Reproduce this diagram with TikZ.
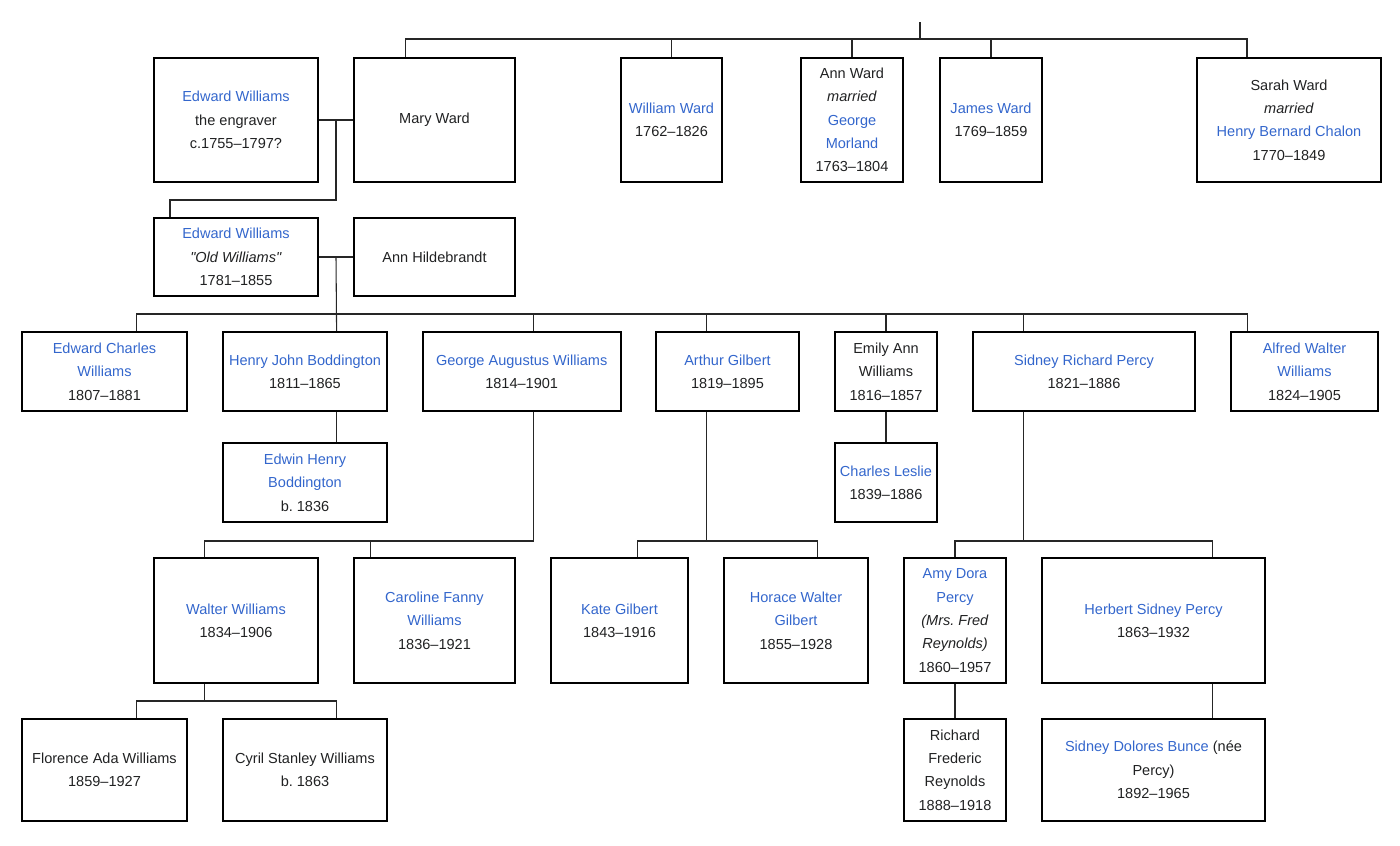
\documentclass[tikz,border=0pt]{standalone}
\usepackage{fontspec}
\setmainfont{Liberation Sans}
\usetikzlibrary{calc}
\definecolor{wikiblue}{HTML}{3366CC}
\definecolor{wikitext}{HTML}{202122}
\newcommand\wlink[1]{\textcolor{wikiblue}{#1}}
\newcommand\dquote{\XeTeXglyph\XeTeXcharglyph"22\relax}
\tikzset{
  person/.style={draw=black,line width=1.5pt,text=wikitext,align=center,
    inner sep=0pt,font=\fontsize{10.9pt}{17.5pt}\selectfont\frenchspacing},
  link/.style={draw=black!85,line width=0.8pt}
}
\begin{document}
\begin{tikzpicture}[x=0.75pt,y=-0.75pt]
  \useasboundingbox (0,0) rectangle (1400,846);
  % the Ward children
  \node[person,minimum width=123pt,minimum height=93pt] (engraver) at (236,120)
       {\wlink{Edward Williams}\\the engraver\\c.1755–1797?};
  \node[person,minimum width=120.75pt,minimum height=93pt] (maryward) at (434.5,120)
       {Mary Ward};
  \node[person,minimum width=75.75pt,minimum height=93pt] (williamward) at (671.5,120)
       {\wlink{William Ward}\\1762–1826};
  \node[person,minimum width=76.5pt,minimum height=93pt] (annward) at (852,120)
       {Ann Ward\\\textit{married}\\\wlink{George}\\\wlink{Morland}\\1763–1804};
  \node[person,minimum width=76.5pt,minimum height=93pt] (jamesward) at (991,120)
       {\wlink{James Ward}\\1769–1859};
  \node[person,minimum width=138pt,minimum height=93pt] (sarahward) at (1289,120)
       {Sarah Ward\\\textit{married}\\\wlink{Henry Bernard Chalon}\\1770–1849};
  % second generation
  \node[person,minimum width=123pt,minimum height=58.5pt] (oldwilliams) at (236,257)
       {\wlink{Edward Williams}\\\textit{\dquote Old Williams\dquote}\\1781–1855};
  \node[person,minimum width=120.75pt,minimum height=58.5pt] (hildebrandt) at (434.5,257)
       {Ann Hildebrandt};
  % children of Old Williams
  \node[person,minimum width=123.75pt,minimum height=59.25pt] (edwardcharles) at (104.5,371.5)
       {\wlink{Edward Charles}\\\wlink{Williams}\\1807–1881};
  \node[person,minimum width=123pt,minimum height=59.25pt] (henryjohn) at (305,371.5)
       {\wlink{Henry John Boddington}\\1811–1865};
  \node[person,minimum width=148.5pt,minimum height=59.25pt] (georgeaugustus) at (521.7,371.5)
       {\wlink{George Augustus Williams}\\1814–1901};
  \node[person,minimum width=107.25pt,minimum height=59.25pt] (arthur) at (727.5,371.5)
       {\wlink{Arthur Gilbert}\\1819–1895};
  \node[person,minimum width=76.5pt,minimum height=59.25pt] (emilyann) at (886,371.5)
       {Emily Ann\\Williams\\1816–1857};
  \node[person,minimum width=166.5pt,minimum height=59.25pt] (sidneyrichard) at (1084,371.5)
       {\wlink{Sidney Richard Percy}\\1821–1886};
  \node[person,minimum width=110.25pt,minimum height=59.25pt] (alfredwalter) at (1304.5,371.5)
       {\wlink{Alfred Walter}\\\wlink{Williams}\\1824–1905};
  \node[person,minimum width=123pt,minimum height=59.25pt] (edwin) at (305,482.5)
       {\wlink{Edwin Henry}\\\wlink{Boddington}\\b. 1836};
  \node[person,minimum width=76.5pt,minimum height=59.25pt] (charlesleslie) at (886,482.5)
       {\wlink{Charles Leslie}\\1839–1886};
  % grandchildren
  \node[person,minimum width=123pt,minimum height=93.75pt] (walter) at (236,620.5)
       {\wlink{Walter Williams}\\1834–1906};
  \node[person,minimum width=120.75pt,minimum height=93.75pt] (caroline) at (434.5,620.5)
       {\wlink{Caroline Fanny}\\\wlink{Williams}\\1836–1921};
  \node[person,minimum width=102.75pt,minimum height=93.75pt] (kate) at (619.5,620.5)
       {\wlink{Kate Gilbert}\\1843–1916};
  \node[person,minimum width=108pt,minimum height=93.75pt] (horace) at (796,620.5)
       {\wlink{Horace Walter}\\\wlink{Gilbert}\\1855–1928};
  \node[person,minimum width=76.5pt,minimum height=93.75pt] (amydora) at (955,620.5)
       {\wlink{Amy Dora}\\\wlink{Percy}\\\textit{(Mrs. Fred}\\\textit{Reynolds)}\\1860–1957};
  \node[person,minimum width=167.25pt,minimum height=93.75pt] (herbert) at (1153.5,620.5)
       {\wlink{Herbert Sidney Percy}\\1863–1932};
  \node[person,minimum width=123.75pt,minimum height=76.5pt] (florence) at (104.5,770)
       {Florence Ada Williams\\1859–1927};
  \node[person,minimum width=123pt,minimum height=76.5pt] (cyril) at (305,770)
       {Cyril Stanley Williams\\b. 1863};
  \node[person,minimum width=76.5pt,minimum height=76.5pt] (richard) at (955,770)
       {Richard\\Frederic\\Reynolds\\1888–1918};
  \node[person,minimum width=167.25pt,minimum height=76.5pt] (sidneydolores) at (1153.5,770)
       {\wlink{Sidney Dolores Bunce} (née\\Percy)\\1892–1965};

  % Ward family bar
  \coordinate (wardtop) at (920,22);
  \coordinate (wardbar) at (920,39);
  \draw[link] (wardtop) -- (wardbar);
  \draw[link] (wardbar) -| ([xshift=-22.1pt]maryward.north);
  \draw[link] (wardbar) -| (williamward.north);
  \draw[link] (wardbar) -| (annward.north);
  \draw[link] (wardbar) -| (jamesward.north);
  \draw[link] (wardbar) -| ([xshift=-31.5pt]sarahward.north);
  % first marriage
  \draw[link] (engraver) -- (maryward);
  \coordinate (wed1) at ($(engraver.east)!0.5!(maryward.west)$);
  \draw[link] (wed1) -- ++(0,80) -| ([xshift=-49.5pt]oldwilliams.north);
  % second marriage
  \draw[link] (oldwilliams) -- (hildebrandt);
  \coordinate (wed2) at ($(oldwilliams.east)!0.5!(hildebrandt.west)$);
  \coordinate (kids) at ($(wed2)+(0,57)$);
  \draw[link] (wed2) -- ([xshift=23.7pt]henryjohn.north);
  \draw[link] (kids) -| ([xshift=24pt]edwardcharles.north);
  \draw[link] (kids) -| ([xshift=8.9pt]georgeaugustus.north);
  \draw[link] (kids) -| ([xshift=-15.8pt]arthur.north);
  \draw[link] (kids) -| (emilyann.north);
  \draw[link] (kids) -| ([xshift=-45.5pt]sidneyrichard.north);
  \draw[link] (kids) -| ([xshift=-43.1pt]alfredwalter.north);
  % grandchildren
  \draw[link] ([xshift=23.7pt]henryjohn.south) -- ([xshift=23.7pt]edwin.north);
  \draw[link] (emilyann) -- (charlesleslie);
  \draw[link] ([xshift=8.9pt]georgeaugustus.south) -- ++(0,129)
       -| ([xshift=-23.6pt]walter.north);
  \draw[link] ([xshift=8.9pt]georgeaugustus.south) -- ++(0,129)
       -| ([xshift=-48pt]caroline.north);
  \draw[link] ([xshift=-15.8pt]arthur.south) -- ++(0,129)
       -| ([xshift=13.5pt]kate.north);
  \draw[link] ([xshift=-15.8pt]arthur.south) -- ++(0,129)
       -| ([xshift=16.1pt]horace.north);
  \draw[link] ([xshift=-45.5pt]sidneyrichard.south) -- ++(0,129)
       -| (amydora.north);
  \draw[link] ([xshift=-45.5pt]sidneyrichard.south) -- ++(0,129)
       -| ([xshift=44.5pt]herbert.north);
  \draw[link] ([xshift=-23.6pt]walter.south) -- ++(0,17)
       -| ([xshift=24pt]florence.north);
  \draw[link] ([xshift=-23.6pt]walter.south) -- ++(0,17)
       -| ([xshift=23.7pt]cyril.north);
  \draw[link] (amydora) -- (richard);
  \draw[link] ([xshift=44.5pt]herbert.south) -- ([xshift=44.5pt]sidneydolores.north);
\end{tikzpicture}
\end{document}
